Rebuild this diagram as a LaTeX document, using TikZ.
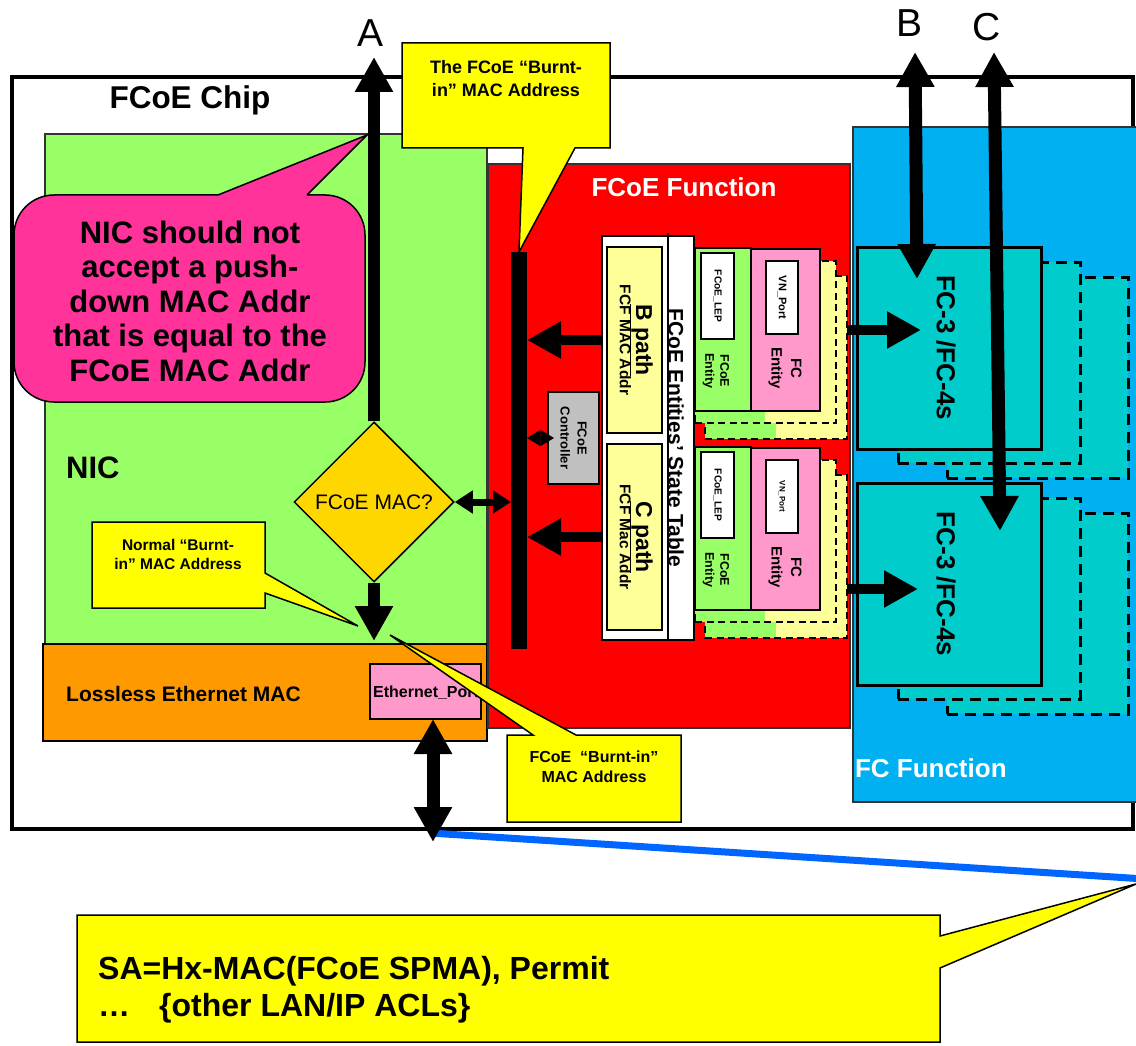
\documentclass[tikz,border=0pt]{standalone}
\usepackage{fontspec}
\setmainfont{Liberation Sans}
\setsansfont{Liberation Sans}
\usetikzlibrary{positioning,calc,fit,arrows.meta,shapes.geometric}
\definecolor{nicgreen}{HTML}{99FF66}
\definecolor{fcoered}{HTML}{FF0000}
\definecolor{fcblue}{HTML}{00B0F0}
\definecolor{fcteal}{HTML}{00CCCC}
\definecolor{enetorange}{HTML}{FF9900}
\definecolor{pathyellow}{HTML}{FFFF99}
\definecolor{noteyellow}{HTML}{FFFF00}
\definecolor{notepink}{HTML}{FF3399}
\definecolor{entpink}{HTML}{FF99CC}
\definecolor{ctrlgray}{HTML}{C0C0C0}
\definecolor{macgold}{HTML}{FFD700}
\definecolor{linkblue}{HTML}{0066FF}
\definecolor{rim}{HTML}{333333}
\tikzset{
  block/.style     = {draw=black, line width=1.5pt, inner sep=0pt, outer sep=0pt},
  shadowbox/.style = {draw=black, line width=3pt, dash pattern=on 11pt off 7pt, inner sep=0pt, outer sep=0pt},
  rot/.style       = {rotate=-90, align=center, inner sep=0pt, outer sep=0pt},
  lettr/.style     = {font=\fontsize{39}{40}\selectfont\sffamily, inner sep=0pt, outer sep=0pt},
  hdr/.style       = {font=\fontsize{26}{28}\selectfont\sffamily\bfseries, inner sep=0pt, outer sep=0pt},
  callbox/.style   = {draw=black, line width=1.5pt, fill=noteyellow},
  notetxt/.style   = {font=\fontsize{16}{20}\selectfont\sffamily\bfseries, align=center, inner sep=0pt, outer sep=0pt},
  fatarrow/.style  = {draw=black, line width=12pt, -{Triangle[length=35pt,width=36pt]}},
  fatboth/.style   = {draw=black, line width=13pt, {Triangle[length=35pt,width=36pt]}-{Triangle[length=35pt,width=36pt]}},
  feed/.style      = {draw=black, line width=10pt, -{Triangle[length=34pt,width=35pt]}},
  slimboth/.style  = {draw=black, line width=7pt, {Triangle[length=18pt,width=22pt]}-{Triangle[length=18pt,width=22pt]}},
  knob/.style      = {draw=black, line width=1pt, {Triangle[length=13.5pt,width=16pt]}-{Triangle[length=13.5pt,width=16pt]}},
  link/.style      = {draw=linkblue, line width=7pt},
}

\begin{document}
\begin{tikzpicture}[x=1pt,y=-1pt]
\useasboundingbox (0,0) rectangle (1136,1046);
\fill[white] (0,0) rectangle (1136,1046);
\clip (0,0) rectangle (1136,1046);

% ---- chip and its three functions ---------------------------------------
\node[block, line width=3.5pt, fit={(12,77) (1133,829)}] (chip) {};
\node[block, draw=rim, fill=fcblue, fit={(853,127) (1145,802)}] (fcfun) {};
\node[block, draw=rim, line width=1.2pt, fill=nicgreen, fit={(45,134) (487,645)}] (nic) {};
\node[block, fill=enetorange, fit={(43,644) (487,741)}] (lemac) {};
\node[block, draw=rim, line width=1.2pt, fill=fcoered, fit={(488,164) (850,728)}] (fcoefun) {};

\node[font=\fontsize{31.5}{33}\selectfont\sffamily\bfseries, inner sep=0pt] (chiplab) at (190,100) {FCoE Chip};
\node[font=\fontsize{31}{33}\selectfont\sffamily\bfseries, anchor=west, inner sep=0pt] (niclab) at (66,468) {NIC};
\node[hdr, text=white] (fcoelab) at (684,187) {FCoE Function};
\node[hdr, text=white, anchor=west] (fclab) at (855,768) {FC Function};
\node[font=\fontsize{21}{23}\selectfont\sffamily\bfseries, anchor=west, inner sep=0pt] (lemaclab) at (66,694) {Lossless Ethernet MAC};

\node[block, fill=entpink, fit={(370,664) (481,719)}] (eport) {};
\node[font=\fontsize{16}{18}\selectfont\sffamily\bfseries, anchor=west, inner sep=0pt] (eporttxt) at (373,693) {Ethernet\_Port};

% ---- NIC side -----------------------------------------------------------
\node[diamond, draw=black, line width=1.5pt, fill=macgold, minimum width=160pt, minimum height=160pt,
      inner sep=0pt, font=\fontsize{21}{23}\selectfont\sffamily] (mac) at (374,502) {FCoE MAC?};

% ---- FCoE function ------------------------------------------------------
\node[fill=black, inner sep=0pt, outer sep=0pt, fit={(511,252) (527,649)}] (bus) {};
\node[block, fill=white, fit={(602,236) (694,640)}] (stbl) {};
\draw[line width=1.2pt] (668,233) -- (668,640);
\node[rot, font=\fontsize{21}{24}\selectfont\sffamily\bfseries] (stbltxt) at (676,438) {FCoE Entities’ State Table};

\foreach \pn/\ya/\yb/\pbig/\pfcf in {bpath/247/433/B path/FCF MAC Addr, cpath/444/630/C path/FCF Mac Addr} {
  \node[block, fill=pathyellow, fit={(607,\ya) (662,\yb)}] (\pn) {};
  \node[rot, font=\fontsize{23}{24}\selectfont\sffamily\bfseries] (\pn-big) at ($(\pn.center)+(6.5,0)$) {\underline{\pbig}};
  \node[rot, font=\fontsize{15.5}{17}\selectfont\sffamily\bfseries] (\pn-fcf) at ($(\pn.center)+(-9,0)$) {\pfcf};
}

\node[block, fill=ctrlgray, fit={(548,392) (599,484)}] (ctrl) {};
\node[rot, font=\fontsize{13}{17}\selectfont\sffamily\bfseries] (ctrltxt) at (ctrl) {FCoE\\Controller};

% one entity pair per path, two dashed copies stacked behind it
\foreach \g/\dy/\vs in {b/0/11, c/199/8} {
  \fill[nicgreen] (705,276+\dy) rectangle (776,439+\dy);
  \fill[pathyellow] (776,276+\dy) rectangle (847,439+\dy);
  \node[shadowbox, line width=2pt, dash pattern=on 7pt off 4.5pt, fit={(705,276+\dy) (847,439+\dy)}] (\g-sh2) {};
  \fill[nicgreen] (695,261+\dy) rectangle (765,423+\dy);
  \fill[pathyellow] (765,261+\dy) rectangle (836,423+\dy);
  \node[shadowbox, line width=2pt, dash pattern=on 7pt off 4.5pt, fit={(695,261+\dy) (836,423+\dy)}] (\g-sh1) {};
  \node[block, line width=2pt, fill=nicgreen, fit={(695,248+\dy) (751,411+\dy)}] (\g-fcoe) {};
  \node[block, line width=2pt, fill=entpink, fit={(751,249+\dy) (820,411+\dy)}] (\g-fc) {};
  \node[block, line width=2pt, fill=white, fit={(701,253+\dy) (734,339+\dy)}] (\g-lep) {};
  \node[rot, font=\fontsize{10.2}{11}\selectfont\sffamily\bfseries] (\g-leptxt) at (\g-lep) {FCoE\_LEP};
  \node[block, line width=2pt, fill=white, fit={(766,261+\dy) (798,334+\dy)}] (\g-vn) {};
  \node[rot, font=\fontsize{\vs}{12}\selectfont\sffamily\bfseries] (\g-vntxt) at (\g-vn) {VN\_Port};
  \node[rot, font=\fontsize{12.5}{15}\selectfont\sffamily\bfseries] (\g-fcoetxt) at (716,371+\dy) {FCoE\\Entity};
  \node[rot, font=\fontsize{15}{19.5}\selectfont\sffamily\bfseries] (\g-fctxt) at (785,368+\dy) {FC\\Entity};
}

% ---- FC function --------------------------------------------------------
\foreach \n/\y in {1/247, 2/483} {
  \node[shadowbox, fill=fcteal, fit={(947,\y+30) (1128,\y+231)}] (fc\n-sh2) {};
  \node[shadowbox, fill=fcteal, fit={(898,\y+15) (1080,\y+216)}] (fc\n-sh1) {};
  \node[block, line width=3pt, fill=fcteal, fit={(857,\y) (1041,\y+202)}] (fc\n) {};
  \node[rot, font=\fontsize{26}{28}\selectfont\sffamily\bfseries] (fc\n-txt) at (946,\y+101) {FC-3 /FC-4s};
}

% ---- wire out of the chip -----------------------------------------------
\coordinate (wan) at (433,842);
\coordinate (wanjoin) at (430,833);
\coordinate (wanfar) at (1145,879);
\draw[link] (wanjoin) -- (wanfar);

% ---- arrows -------------------------------------------------------------
\coordinate (Atip) at (374,57);
\coordinate (macdrop) at (374,641);
\coordinate (Btip) at (915,52);
\coordinate (Bend) at (917,279);
\coordinate (Ctip) at (994,52);
\coordinate (Cend) at (1000,531);
\coordinate (bfeed) at (921,330);
\coordinate (cfeed) at (918,589);
\coordinate (ctrlgrip) at ($(ctrl.west)+(6,0)$);

\draw[fatarrow] (mac.north) -- (Atip);
\draw[fatarrow] (mac.south) -- (macdrop);
\draw[slimboth] (mac.east) -- (mac.east -| bus.west);
\draw[feed] (stbl.west |- bpath.center) -- (bus.east |- bpath.center);
\draw[feed] (stbl.west |- cpath.center) -- (bus.east |- cpath.center);
\draw[knob] (bus.east |- ctrl.center) -- (ctrlgrip);
\draw[feed] (b-sh2.east |- bfeed) -- (bfeed);
\draw[feed] (c-sh2.east |- cfeed) -- (cfeed);
\draw[fatboth] (Btip) -- (Bend);
\draw[fatboth] (Ctip) -- (Cend);
\draw[fatboth] (wan |- eport.south) -- (wan);

% ---- callouts -----------------------------------------------------------
\node[block, fill=notepink, rounded corners=40pt, fit={(14,195) (365,402)}] (pushnote) {};
\fill[notepink] (218,195) -- (367,135) -- (307,195) -- (307,197.5) -- (218,197.5) -- cycle;
\draw[line width=1.5pt, line join=miter] (218,195) -- (367,135) -- (307,195);
\node[font=\fontsize{31}{34.5}\selectfont\sffamily\bfseries, align=center, inner sep=0pt] (pushtext) at (190,301)
  {NIC should not\\accept a push-\\down MAC Addr\\that is equal to the\\FCoE MAC Addr};

\path[callbox] (402,43) -- (610,43) -- (610,148) -- (575,148) -- (bus.north) -- (523,148) -- (402,148) -- cycle;
\node[notetxt, font=\fontsize{18}{23}\selectfont\sffamily\bfseries] (topnote) at (506,79) {The FCoE “Burnt-\\in” MAC Address};

\coordinate (nictip) at (358,626);
\path[callbox] (92,522) -- (265,522) -- (265,573) -- (nictip) -- (265,593) -- (265,608) -- (92,608) -- cycle;
\node[notetxt, font=\fontsize{15.5}{19}\selectfont\sffamily\bfseries] (nicnote) at (178,554) {Normal “Burnt-\\in” MAC Address};

\coordinate (fcoetip) at (390,635);
\path[callbox] (507,735) -- (533,735) -- (fcoetip) -- (576,735) -- (681,735) -- (681,822) -- (507,822) -- cycle;
\node[notetxt] (fcoenote) at (594,767) {FCoE\ \ “Burnt-in”\\MAC Address};

\coordinate (acltip) at (1136,884);
\path[callbox] (77,915) -- (940,915) -- (940,936) -- (acltip) -- (940,968) -- (940,1042) -- (77,1042) -- cycle;
\node[font=\fontsize{32}{37}\selectfont\sffamily\bfseries, align=left, anchor=west, inner sep=0pt] (aclnote) at (98,990)
  {SA=Hx-MAC(FCoE SPMA), Permit\\…\hspace{29pt}\{other LAN/IP ACLs\}};

% ---- path letters -------------------------------------------------------
\node[lettr] (labA) at (371,33) {A};
\node[lettr] (labB) at (909,23) {B};
\node[lettr] (labC) at (987,27) {C};
\end{tikzpicture}
\end{document}
